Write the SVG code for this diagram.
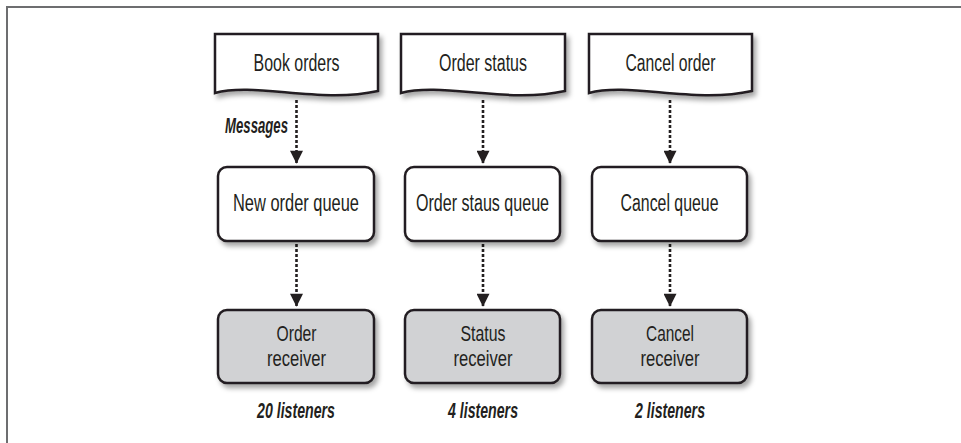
<svg xmlns="http://www.w3.org/2000/svg" width="961" height="443" viewBox="0 0 961 443">
<style>
.frame{fill:none;stroke:#6d6e70;stroke-width:2}
.doc,.q{fill:#fff;stroke:#231f20;stroke-width:2.5}
.r{fill:#d1d2d4;stroke:#231f20;stroke-width:2.5}
.t{font-family:"Liberation Sans",Arial,sans-serif;font-size:23px;fill:#231f20;text-anchor:middle}
.t2{font-size:22px}
.i{font-family:"Liberation Sans",Arial,sans-serif;font-size:22px;font-style:italic;font-weight:bold;fill:#231f20}
.c{stroke:#231f20;stroke-width:2.6;stroke-dasharray:3 2;fill:none}
</style>
<defs>
<filter id="sh" x="-10%" y="-10%" width="130%" height="140%">
<feDropShadow dx="3" dy="4" stdDeviation="2.5" flood-color="#000" flood-opacity="0.35"/>
</filter>
<marker id="ah" markerWidth="15" markerHeight="13" refX="14" refY="7.5" orient="auto" markerUnits="userSpaceOnUse" viewBox="0 0 15 15">
<path d="M0,0 L15,7.5 L0,15 Z" fill="#231f20"/>
</marker>
</defs>
<path class="frame" d="M7,443 V7 H961"/>

<g id="connectors">
<line class="c" x1="296.5" y1="100" x2="296.5" y2="163" marker-end="url(#ah)"/>
<line class="c" x1="483" y1="100" x2="483" y2="163" marker-end="url(#ah)"/>
<line class="c" x1="670" y1="100" x2="670" y2="163" marker-end="url(#ah)"/>
<line class="c" x1="296.5" y1="244" x2="296.5" y2="306" marker-end="url(#ah)"/>
<line class="c" x1="483" y1="244" x2="483" y2="306" marker-end="url(#ah)"/>
<line class="c" x1="670" y1="244" x2="670" y2="306" marker-end="url(#ah)"/>
<text class="i" x="288" y="133" text-anchor="end" textLength="63" lengthAdjust="spacingAndGlyphs">Messages</text>
</g>

<g id="doc-book-orders">
<path class="doc" filter="url(#sh)" d="M215,34 H378 V91 C320,104 255,82 215,93 Z"/>
<text class="t" x="296.5" y="71" textLength="86" lengthAdjust="spacingAndGlyphs">Book orders</text>
</g>
<g id="doc-order-status">
<path class="doc" filter="url(#sh)" d="M401,34 H565 V91 C507,104 442,82 401,93 Z"/>
<text class="t" x="483" y="71" textLength="88" lengthAdjust="spacingAndGlyphs">Order status</text>
</g>
<g id="doc-cancel-order">
<path class="doc" filter="url(#sh)" d="M589,34 H752 V91 C694,104 629,82 589,93 Z"/>
<text class="t" x="670.5" y="71" textLength="90" lengthAdjust="spacingAndGlyphs">Cancel order</text>
</g>

<g id="q-new-order">
<rect class="q" filter="url(#sh)" x="218" y="167" width="156" height="74" rx="9"/>
<text class="t" x="296" y="211" textLength="126" lengthAdjust="spacingAndGlyphs">New order queue</text>
</g>
<g id="q-order-status">
<rect class="q" filter="url(#sh)" x="405" y="167" width="155" height="74" rx="9"/>
<text class="t" x="482.5" y="211" textLength="133" lengthAdjust="spacingAndGlyphs">Order staus queue</text>
</g>
<g id="q-cancel">
<rect class="q" filter="url(#sh)" x="592" y="167" width="155" height="74" rx="9"/>
<text class="t" x="669.5" y="211" textLength="98" lengthAdjust="spacingAndGlyphs">Cancel queue</text>
</g>

<g id="r-order">
<rect class="r" filter="url(#sh)" x="218" y="310" width="156" height="73" rx="9"/>
<text class="t t2" x="296.5" y="340.5" textLength="40" lengthAdjust="spacingAndGlyphs">Order</text>
<text class="t t2" x="296.5" y="365.5" textLength="59" lengthAdjust="spacingAndGlyphs">receiver</text>
</g>
<g id="r-status">
<rect class="r" filter="url(#sh)" x="405" y="310" width="155" height="73" rx="9"/>
<text class="t t2" x="483" y="340.5" textLength="45" lengthAdjust="spacingAndGlyphs">Status</text>
<text class="t t2" x="483" y="365.5" textLength="59" lengthAdjust="spacingAndGlyphs">receiver</text>
</g>
<g id="r-cancel">
<rect class="r" filter="url(#sh)" x="592" y="310" width="155" height="73" rx="9"/>
<text class="t t2" x="670" y="340.5" textLength="48" lengthAdjust="spacingAndGlyphs">Cancel</text>
<text class="t t2" x="670" y="365.5" textLength="59" lengthAdjust="spacingAndGlyphs">receiver</text>
</g>

<g id="labels">
<text class="i" x="296" y="418" text-anchor="middle" textLength="78" lengthAdjust="spacingAndGlyphs">20 listeners</text>
<text class="i" x="483" y="418" text-anchor="middle" textLength="70" lengthAdjust="spacingAndGlyphs">4 listeners</text>
<text class="i" x="670" y="418" text-anchor="middle" textLength="70" lengthAdjust="spacingAndGlyphs">2 listeners</text>
</g>
</svg>
